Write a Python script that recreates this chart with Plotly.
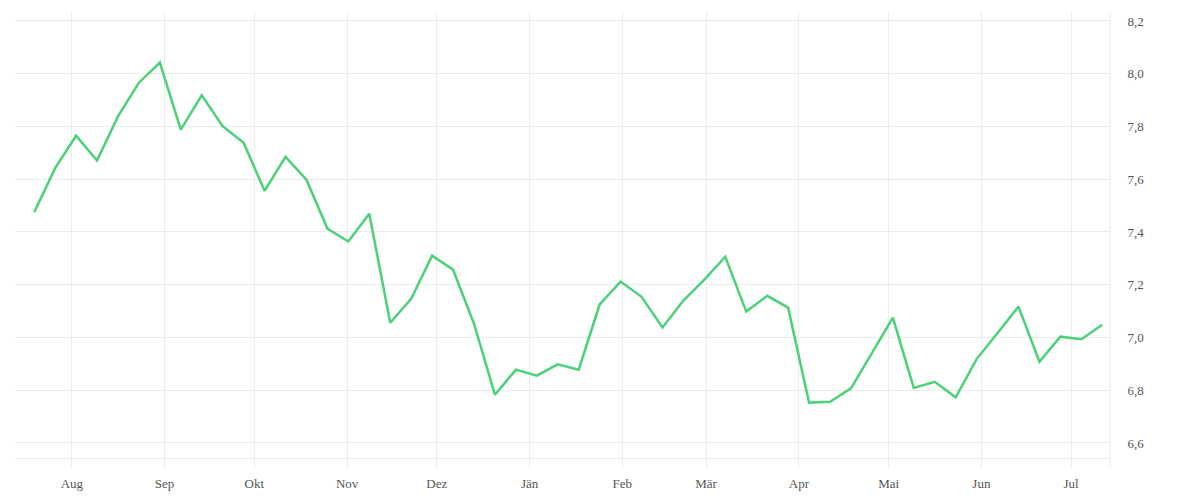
import pandas as pd
import plotly.graph_objects as go

# Weekly observations (x positions), Jul 2022 - Jul 2023
dates = pd.date_range("2022-07-19 10:00", periods=52, freq="7D")

values = [
    7.475, 7.642, 7.765, 7.671, 7.838, 7.966, 8.042, 7.788, 7.918, 7.801,
    7.738, 7.556, 7.685, 7.598, 7.413, 7.364, 7.469, 7.056, 7.147, 7.310,
    7.257, 7.052, 6.783, 6.878, 6.855, 6.898, 6.878, 7.125, 7.212, 7.154,
    7.038, 7.140, 7.219, 7.306, 7.098, 7.158, 7.113, 6.753, 6.756, 6.807,
    6.941, 7.075, 6.809, 6.832, 6.773, 6.918, 7.017, 7.117, 6.908, 7.003,
    6.993, 7.048,
]

month_ticks = ["2022-08-01", "2022-09-01", "2022-10-01", "2022-11-01", "2022-12-01",
               "2023-01-01", "2023-02-01", "2023-03-01", "2023-04-01", "2023-05-01",
               "2023-06-01", "2023-07-01"]
month_labels = ["Aug", "Sep", "Okt", "Nov", "Dez", "Jän", "Feb", "Mär", "Apr", "Mai", "Jun", "Jul"]

y_ticks = [6.6, 6.8, 7.0, 7.2, 7.4, 7.6, 7.8, 8.0, 8.2]

grid = "#ececec"
font = dict(family="Liberation Serif, DejaVu Serif, serif", size=13, color="#555555")

fig = go.Figure(go.Scatter(
    x=dates, y=values, mode="lines",
    line=dict(color="#4cd07a", width=2.5),
    hoverinfo="x+y",
))

fig.update_layout(
    width=1200, height=500,
    margin=dict(l=7, r=98, t=4, b=50),
    paper_bgcolor="white", plot_bgcolor="white",
    separators=",.",
    showlegend=False,
    font=font,
    xaxis=dict(
        range=["2022-07-13", "2023-07-14"],
        tickvals=month_ticks, ticktext=month_labels,
        showgrid=True, gridcolor=grid, gridwidth=1,
        ticks="outside", ticklen=10, tickcolor=grid, tickwidth=1,
        showline=True, linecolor=grid, linewidth=1,
        zeroline=False, tickfont=font, ticklabelstandoff=3,
    ),
    yaxis=dict(
        side="right",
        range=[6.543, 8.234],
        tickvals=y_ticks, tickformat=".1f",
        showgrid=True, gridcolor=grid, gridwidth=1,
        ticks="outside", ticklen=14, tickcolor="rgba(0,0,0,0)",
        showline=False, zeroline=False, tickfont=font,
    ),
    shapes=[dict(type="line", xref="paper", yref="paper", x0=1, x1=1,
                 y0=-10 / 446, y1=1, line=dict(color=grid, width=1), layer="below")],
)

fig.write_html("out.html")
